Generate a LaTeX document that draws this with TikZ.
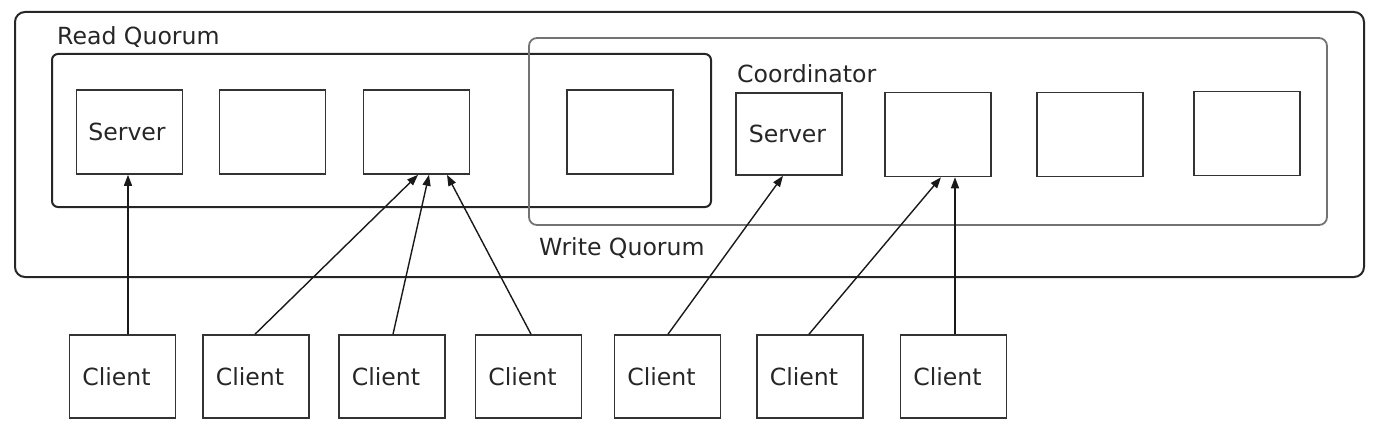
\documentclass[tikz,border=0pt]{standalone}
\usepackage{fontspec}
\setmainfont{DejaVu Sans}
\usetikzlibrary{arrows.meta}
\newcommand{\padr}[1]{\rule{#1}{0pt}}
\begin{document}
\begin{tikzpicture}[x=1pt,y=-1pt,
  every node/.style={font=\fontsize{23.6}{28}\selectfont, text=black!85},
  box/.style={draw=black!80, line width=1.6pt, minimum width=106pt, minimum height=84pt, inner sep=0pt},
  cbox/.style={box, minimum height=83pt},
  lbl/.style={anchor=base west, inner sep=0pt},
  arr/.style={draw=black!90, line width=1.4pt, -{Triangle[length=11pt,width=8pt]}}
]
\useasboundingbox (0,0) rectangle (1382,436);
% outer container
\draw[black!85, line width=2pt, rounded corners=10pt] (15,12) rectangle (1364,277);
% read quorum
\draw[black!85, line width=2pt, rounded corners=6pt] (52,54) rectangle (711,207);
% write quorum
\draw[black!55, line width=1.8pt, rounded corners=8pt] (529,38) rectangle (1327,225);
\node[lbl] (rq) at (57,45) {Read Quorum};
\node[lbl] (co) at (737,83) {Coordinator};
\node[lbl] (wq) at (539,255) {Write Quorum};
% servers
\node[box] (s1) at (129.5,132) {Server\padr{5pt}};
\node[box] (s2) at (272.5,132) {};
\node[box] (s3) at (416.5,132) {};
\node[box] (s4) at (620,132) {};
\node[box, minimum height=82pt] (s5) at (789,134) {Server\padr{3pt}};
\node[box] (s6) at (938,134.5) {};
\node[box] (s7) at (1090,134.5) {};
\node[box] (s8) at (1247,133.5) {};
% clients
\node[cbox] (c1) at (122.5,376.5) {Client\padr{12pt}};
\node[cbox] (c2) at (256,376.5) {Client\padr{12pt}};
\node[cbox] (c3) at (392,376.5) {Client\padr{12pt}};
\node[cbox] (c4) at (528.5,376.5) {Client\padr{12pt}};
\node[cbox] (c5) at (667.5,376.5) {Client\padr{12pt}};
\node[cbox] (c6) at (810,376.5) {Client\padr{12pt}};
\node[cbox] (c7) at (953.5,376.5) {Client\padr{12pt}};
% connectors
\draw[arr] ([xshift=5.5pt]c1.north) -- ([xshift=-1.5pt]s1.south);
\draw[arr] ([xshift=-1pt]c2.north) -- ([xshift=1.5pt]s3.south);
\draw[arr] ([xshift=1pt]c3.north) -- ([xshift=12.5pt]s3.south);
\draw[arr] ([xshift=2.5pt]c4.north) -- ([xshift=30.5pt]s3.south);
\draw[arr] ([xshift=0.5pt]c5.north) -- ([xshift=-6pt]s5.south);
\draw[arr] ([xshift=-1pt]c6.north) -- ([xshift=3pt]s6.south);
\draw[arr] ([xshift=1.5pt]c7.north) -- ([xshift=17pt]s6.south);
\end{tikzpicture}
\end{document}
